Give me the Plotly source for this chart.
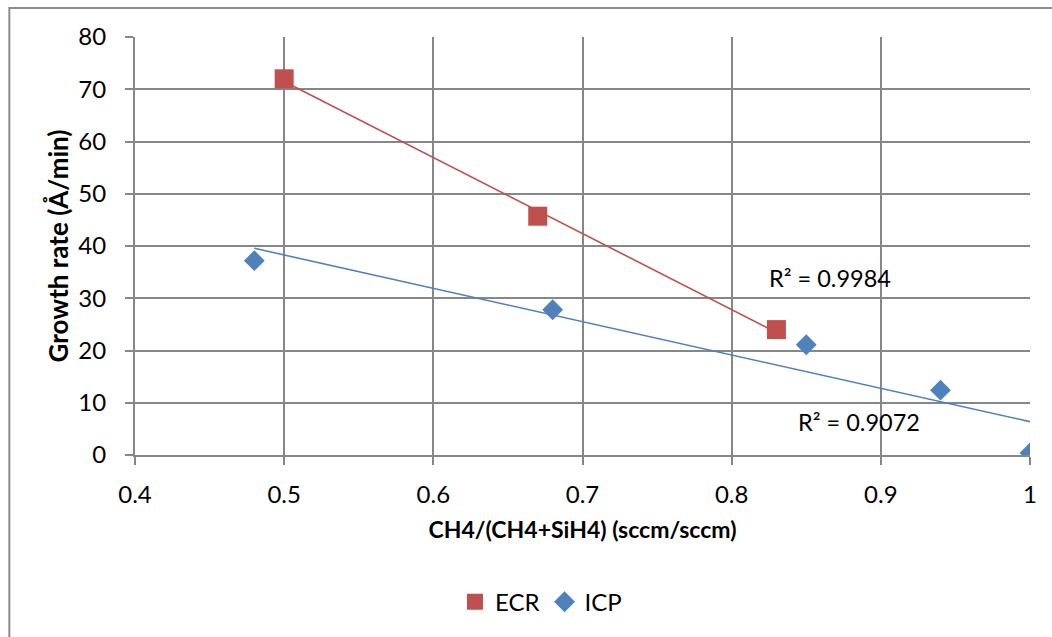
import numpy as np
import plotly.graph_objects as go

# Growth rate vs. methane fraction for two plasma sources
ecr_x = [0.50, 0.67, 0.83]
ecr_y = [72.0, 45.7, 24.0]
icp_x = [0.48, 0.68, 0.85, 0.94, 1.00]
icp_y = [37.2, 27.8, 21.1, 12.4, 0.4]

ecr_r2_text = "R² = 0.9984"
icp_r2_text = "R² = 0.9072"

x_ticks = [0.4, 0.5, 0.6, 0.7, 0.8, 0.9, 1.0]
x_tick_text = ["0.4", "0.5", "0.6", "0.7", "0.8", "0.9", "1"]
y_ticks = [0, 10, 20, 30, 40, 50, 60, 70, 80]

ECR_COLOR = "#C0504D"
ICP_COLOR = "#4F81BD"
GRID = "#878787"
FONT = "Lato"


def linear_fit(xs, ys):
    slope, intercept = np.polyfit(xs, ys, 1)
    xa = np.array([min(xs), max(xs)])
    return xa, slope * xa + intercept


fig = go.Figure()

fig.add_trace(go.Scatter(
    x=ecr_x, y=ecr_y, mode="markers", name="ECR",
    marker=dict(symbol="square", size=19, color=ECR_COLOR),
))
fig.add_trace(go.Scatter(
    x=icp_x, y=icp_y, mode="markers", name="ICP",
    marker=dict(symbol="diamond", size=16, color=ICP_COLOR),
))

# linear trendlines
ex, ey = linear_fit(ecr_x, ecr_y)
fig.add_trace(go.Scatter(x=ex, y=ey, mode="lines", showlegend=False,
                         line=dict(color=ECR_COLOR, width=1.6), hoverinfo="skip"))
ix, iy = linear_fit(icp_x, icp_y)
fig.add_trace(go.Scatter(x=ix, y=iy, mode="lines", showlegend=False,
                         line=dict(color=ICP_COLOR, width=1.6), hoverinfo="skip"))

fig.add_annotation(x=0.8237, y=33.9, xref="x", yref="y", text=ecr_r2_text,
                   showarrow=False, xanchor="left",
                   font=dict(family=FONT, size=23.5, color="black"))
fig.add_annotation(x=0.843, y=6.3, xref="x", yref="y", text=icp_r2_text,
                   showarrow=False, xanchor="left",
                   font=dict(family=FONT, size=23.5, color="black"))

# outer chart frame
fig.add_shape(type="rect", xref="paper", yref="paper",
              x0=-0.1404, x1=1.1, y0=1.0694, y1=-0.6,
              line=dict(color="#8c8c8c", width=2), layer="below")

fig.update_xaxes(
    range=[0.4, 1.0], tickvals=x_ticks, ticktext=x_tick_text,
    showgrid=True, gridcolor=GRID, gridwidth=2,
    showline=True, linecolor=GRID, linewidth=2,
    ticks="outside", ticklen=8, tickwidth=2, tickcolor=GRID,
    tickfont=dict(family=FONT, size=24, color="black"),
    ticklabelstandoff=9,
    zeroline=False,
    title=dict(text="<b>CH4/(CH4+SiH4) (sccm/sccm)</b>",
               font=dict(family=FONT, size=23, color="black"), standoff=15),
)
fig.update_yaxes(
    range=[0, 80], tickvals=y_ticks,
    showgrid=True, gridcolor=GRID, gridwidth=2,
    showline=True, linecolor=GRID, linewidth=2, mirror=False,
    ticks="outside", ticklen=8, tickwidth=2, tickcolor=GRID,
    tickfont=dict(family=FONT, size=24, color="black"),
    ticklabelstandoff=14,
    zeroline=False,
    title=dict(text="<b>Growth rate (Å/min)</b>",
               font=dict(family=FONT, size=26, color="black"), standoff=2),
)

fig.update_layout(
    width=1052, height=637,
    margin=dict(l=135, r=22, t=37, b=182),
    paper_bgcolor="white", plot_bgcolor="white",
    showlegend=True,
    legend=dict(orientation="h", x=0.4536, xanchor="center", y=-0.352, yanchor="middle",
                font=dict(family=FONT, size=24, color="black"),
                itemsizing="trace", traceorder="normal"),
)

fig.write_html("out.html")
